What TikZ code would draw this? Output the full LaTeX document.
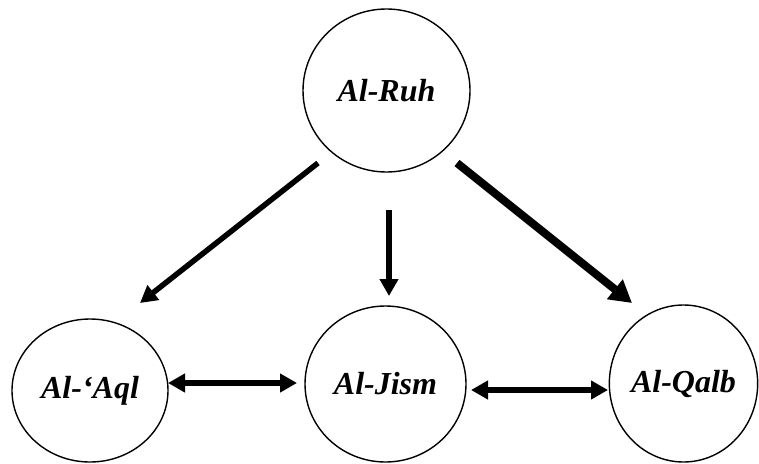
\documentclass[tikz,border=0pt]{standalone}
\usepackage{fontspec}
\setmainfont{Liberation Serif}
\usetikzlibrary{arrows.meta,shapes.geometric}
\begin{document}
\begin{tikzpicture}[x=1pt,y=-1pt,
  concept/.style={draw,line width=1.4pt,ellipse,inner sep=0pt,
    font=\fontsize{32}{36}\selectfont\bfseries\itshape},
  link/.style={line width=5.5pt,-{Triangle[length=17pt,width=18pt]}},
  boldlink/.style={line width=8pt,-{Triangle[length=22pt,width=24pt]}},
  both/.style={line width=5.5pt,{Triangle[length=17pt,width=18pt]}-{Triangle[length=17pt,width=18pt]}}]
\useasboundingbox (0,0) rectangle (759,463);
\node[concept,minimum width=167pt,minimum height=163pt] (ruh) at (386.5,90.5) {Al-Ruh};
\node[concept,minimum width=156pt,minimum height=143pt] (aql) at (90,390.5) {Al-‘Aql};
\node[concept,minimum width=161pt,minimum height=156pt] (jism) at (385.5,384) {Al-Jism};
\node[concept,minimum width=147pt,minimum height=157pt] (qalb) at (683.5,383.5) {Al-Qalb};
\coordinate (r1) at (318,163);
\coordinate (a1) at (140,303);
\coordinate (r2) at (389,210);
\coordinate (j1) at (389,296);
\coordinate (r3) at (457,163);
\coordinate (q1) at (632,303);
\coordinate (a2) at (168,383);
\coordinate (j2) at (297,383);
\coordinate (j3) at (471,390);
\coordinate (q2) at (608,390);
\draw[link] (r1) -- (a1);
\draw[link] (r2) -- (j1);
\draw[boldlink] (r3) -- (q1);
\draw[both] (a2) -- (j2);
\draw[both] (j3) -- (q2);
\end{tikzpicture}
\end{document}
